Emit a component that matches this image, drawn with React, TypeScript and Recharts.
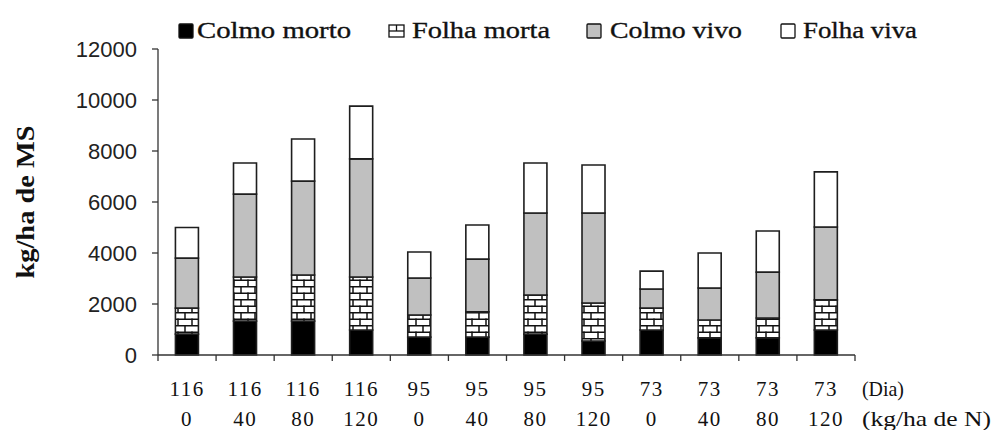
import React from 'react';
import { BarChart, Bar, XAxis, YAxis } from 'recharts';

const dias = ['116', '116', '116', '116', '95', '95', '95', '95', '73', '73', '73', '73'];
const doses = ['0', '40', '80', '120', '0', '40', '80', '120', '0', '40', '80', '120'];
const colmoMorto = [820, 1330, 1330, 980, 700, 700, 820, 550, 980, 670, 670, 980];
const folhaMorta = [1020, 1730, 1810, 2080, 870, 990, 1530, 1490, 860, 700, 780, 1180];
const colmoVivo = [1960, 3250, 3680, 4630, 1450, 2070, 3220, 3530, 750, 1260, 1800, 2860];
const folhaViva = [1200, 1220, 1650, 2070, 1020, 1340, 1960, 1880, 700, 1370, 1610, 2160];
const yTicks = [0, 2000, 4000, 6000, 8000, 10000, 12000];
const seriesNames = ['Colmo morto', 'Folha morta', 'Colmo vivo', 'Folha viva'];
const rowLabels = ['(Dia)', '(kg/ha de N)'];

const data = dias.map((d, i) => ({
  key: `${d}-${doses[i]}-${i}`,
  dia: d,
  dose: doses[i],
  colmoMorto: colmoMorto[i],
  folhaMorta: folhaMorta[i],
  colmoVivo: colmoVivo[i],
  folhaViva: folhaViva[i],
}));

const STROKE = '#1e1e1e';
const AXIS = '#333';
const fills = ['#000000', 'url(#brick)', '#c0c0c0', '#ffffff'];
const keys = ['colmoMorto', 'folhaMorta', 'colmoVivo', 'folhaViva'];

// legend layout (pixel placement of the legend items)
const legendLayout = [
  { sx: 179, tx: 197, tw: 154 },
  { sx: 389, tx: 412, tw: 138 },
  { sx: 587, tx: 610, tw: 132 },
  { sx: 781, tx: 803, tw: 114 },
];

const serif = 'Liberation Serif';
const sans = 'Liberation Sans';

const CatTick = (props: any) => {
  const { x, y, payload } = props;
  const i = payload.index;
  const count = props.visibleTicksCount || data.length;
  const band = (props.width || 697) / count;
  const row = data[i];
  const els: any[] = [
    <line key="tr" x1={x + band / 2} y1={y} x2={x + band / 2} y2={y + 6} stroke={AXIS} strokeWidth={1.3} />,
    <text key="a" x={x} y={y + 41} textAnchor="middle" fontFamily={serif} fontSize={21} letterSpacing={1.5} fill="#111">{row.dia}</text>,
    <text key="b" x={x} y={y + 71} textAnchor="middle" fontFamily={serif} fontSize={21} letterSpacing={1.5} fill="#111">{row.dose}</text>,
  ];
  if (i === 0) {
    els.push(<line key="tl" x1={x - band / 2} y1={y} x2={x - band / 2} y2={y + 6} stroke={AXIS} strokeWidth={1.3} />);
  }
  if (i === data.length - 1) {
    els.push(
      <text key="c" x={x + 36} y={y + 41} fontFamily={serif} fontSize={22} textLength={42} lengthAdjust="spacingAndGlyphs" fill="#111">{rowLabels[0]}</text>,
      <text key="d" x={x + 36} y={y + 71} fontFamily={serif} fontSize={22} textLength={129} lengthAdjust="spacingAndGlyphs" fill="#111">{rowLabels[1]}</text>
    );
  }
  return <g>{els}</g>;
};

const YLabel = (props: any) => {
  const vb = props.viewBox || { x: 0, y: 49, width: 158, height: 306 };
  const cx = vb.x + 25;
  const cy = vb.y + vb.height / 2;
  return (
    <text
      x={cx}
      y={cy}
      transform={`rotate(-90 ${cx} ${cy})`}
      textAnchor="middle"
      dominantBaseline="central"
      fontFamily={serif}
      fontWeight="bold"
      fontSize={26}
      textLength={153}
      lengthAdjust="spacingAndGlyphs"
      fill="#111"
    >
      kg/ha de MS
    </text>
  );
};

const LegendIcon = ({ i, x }: { i: number; x: number }) => {
  if (i === 1) {
    return (
      <g stroke="#111" strokeWidth={1.3} fill="#fff">
        <rect x={x} y={25} width={15} height={12} />
        <line x1={x} y1={31} x2={x + 15} y2={31} />
        <line x1={x + 7.5} y1={25} x2={x + 7.5} y2={31} />
      </g>
    );
  }
  return <rect x={x} y={24} width={14} height={14} fill={fills[i]} stroke="#111" strokeWidth={1.3} rx={1} />;
};

export default function App() {
  return (
    <div style={{ position: 'absolute', left: 0, top: 0, width: 992, height: 430, background: '#fff' }}>
      <svg width={992} height={48} style={{ position: 'absolute', left: 0, top: 0 }}>
        <defs>
          <pattern id="brick" patternUnits="userSpaceOnUse" width={14} height={13}>
            <rect x={0} y={0} width={14} height={13} fill="#fff" />
            <line x1={0} y1={0.75} x2={14} y2={0.75} stroke="#111" strokeWidth={1.5} />
            <line x1={0} y1={7.25} x2={14} y2={7.25} stroke="#111" strokeWidth={1.5} />
            <line x1={3} y1={0} x2={3} y2={7} stroke="#111" strokeWidth={1.5} />
            <line x1={10} y1={6.5} x2={10} y2={13} stroke="#111" strokeWidth={1.5} />
          </pattern>
        </defs>
        {seriesNames.map((n, i) => (
          <g key={n}>
            <LegendIcon i={i} x={legendLayout[i].sx} />
            <text
              x={legendLayout[i].tx}
              y={38}
              fontFamily={serif}
              fontSize={23}
              textLength={legendLayout[i].tw}
              lengthAdjust="spacingAndGlyphs"
              fill="#111"
              stroke="#111"
              strokeWidth={0.35}
            >
              {n}
            </text>
          </g>
        ))}
      </svg>
      <div style={{ position: 'absolute', left: 0, top: 0 }}>
        <BarChart
          width={992}
          height={430}
          data={data}
          margin={{ top: 49, right: 137, bottom: 0, left: 0 }}
          barCategoryGap="30%"
        >
          <XAxis
            dataKey="key"
            height={75}
            axisLine={{ stroke: AXIS, strokeWidth: 1.3 }}
            tickLine={false}
            tickSize={0}
            tickMargin={0}
            interval={0}
            tick={<CatTick />}
          />
          <YAxis
            width={158}
            domain={[0, 12000]}
            ticks={yTicks}
            interval={0}
            tickSize={6}
            tickMargin={15}
            axisLine={{ stroke: AXIS, strokeWidth: 1.3 }}
            tickLine={{ stroke: AXIS, strokeWidth: 1.3 }}
            tick={{ fontFamily: sans, fontSize: 22, fill: '#222' }}
            label={{ content: <YLabel /> }}
          />
          {keys.map((k, i) => (
            <Bar
              key={k}
              dataKey={k}
              name={seriesNames[i]}
              stackId="s"
              fill={fills[i]}
              stroke={STROKE}
              strokeWidth={1.6}
              isAnimationActive={false}
            />
          ))}
        </BarChart>
      </div>
    </div>
  );
}
